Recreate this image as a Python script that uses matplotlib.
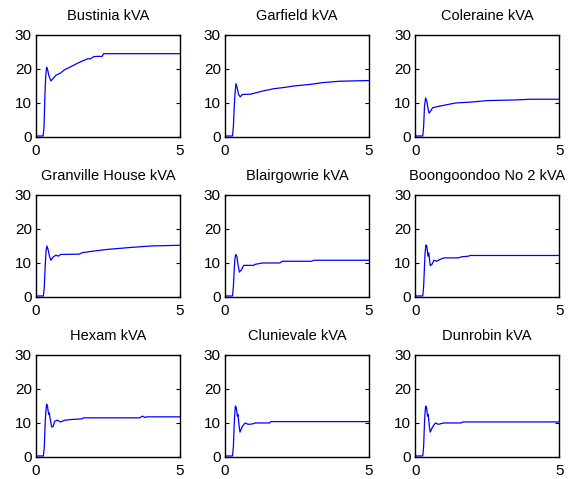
import matplotlib
matplotlib.use("Agg")
import matplotlib.pyplot as plt

plt.rcParams['font.family'] = ['Liberation Sans', 'DejaVu Sans']

titles = ["Bustinia kVA", "Garfield kVA", "Coleraine kVA",
          "Granville House kVA", "Blairgowrie kVA", "Boongoondoo No 2 kVA",
          "Hexam kVA", "Clunievale kVA", "Dunrobin kVA"]

bustinia_t = [0, 0.25, 0.28, 0.31, 0.34, 0.37, 0.40, 0.45, 0.52, 0.6, 0.7, 0.85, 1.0, 1.2, 1.4, 1.6, 1.8, 1.9, 2.0, 2.1, 2.3, 2.35, 5]
bustinia_y = [0.3, 0.3, 3, 12, 18, 20.5, 20, 18, 16.5, 17.2, 18.2, 18.8, 19.8, 20.6, 21.5, 22.3, 23, 23, 23.6, 23.7, 23.7, 24.5, 24.5]

garfield_t = [0, 0.26, 0.29, 0.32, 0.35, 0.38, 0.42, 0.47, 0.53, 0.6, 0.9, 1.3, 1.7, 2.0, 2.4, 3.0, 3.4, 4.0, 5]
garfield_y = [0.3, 0.3, 3, 9, 13, 15.7, 14.5, 12.5, 11.8, 12.5, 12.6, 13.5, 14.2, 14.5, 15.0, 15.5, 16.0, 16.4, 16.6]

coleraine_t = [0, 0.26, 0.29, 0.32, 0.36, 0.40, 0.44, 0.48, 0.55, 0.6, 0.8, 1.1, 1.4, 2.0, 2.5, 3.5, 4.0, 5]
coleraine_y = [0.3, 0.3, 3, 9, 11.5, 10.5, 8.5, 7.0, 7.8, 8.6, 9.0, 9.5, 10.0, 10.3, 10.7, 10.9, 11.1, 11.1]

granville_t = [0, 0.26, 0.29, 0.32, 0.35, 0.38, 0.42, 0.47, 0.52, 0.6, 0.7, 0.78, 0.85, 1.5, 1.6, 2.0, 2.5, 3.2, 4.0, 5]
granville_y = [0.3, 0.3, 3, 9, 13.5, 15.0, 14.0, 12.0, 10.8, 11.8, 12.3, 12.0, 12.5, 12.6, 13.0, 13.5, 14.0, 14.5, 15.0, 15.2]

blair_t = [0, 0.26, 0.29, 0.32, 0.34, 0.37, 0.41, 0.45, 0.50, 0.57, 0.65, 1.0, 1.05, 1.3, 1.9, 2.0, 3.0, 3.1, 5]
blair_y = [0.3, 0.3, 3, 8, 11, 12.5, 12.0, 9.5, 7.3, 8.0, 9.3, 9.3, 9.6, 10.0, 10.0, 10.5, 10.5, 10.8, 10.8]

boong_t = [0, 0.26, 0.29, 0.32, 0.34, 0.37, 0.40, 0.44, 0.47, 0.52, 0.58, 0.65, 0.75, 0.85, 1.0, 1.5, 1.6, 1.85, 1.9, 5]
boong_y = [0.3, 0.3, 3, 9, 13, 15.3, 15.0, 12.0, 13.0, 9.2, 9.6, 10.8, 10.5, 11.0, 11.5, 11.5, 11.8, 12.0, 12.2, 12.2]

hexam_t = [0, 0.26, 0.29, 0.32, 0.34, 0.37, 0.40, 0.44, 0.46, 0.52, 0.55, 0.6, 0.65, 0.75, 0.85, 1.0, 1.2, 1.6, 1.65, 3.6, 3.7, 3.8, 3.85, 5]
hexam_y = [0.3, 0.3, 3, 10, 13, 15.5, 15.0, 12.5, 13.0, 10.0, 8.8, 9.0, 10.5, 10.8, 10.3, 10.8, 11.0, 11.2, 11.5, 11.5, 12.0, 11.6, 11.8, 11.8]

cluni_t = [0, 0.26, 0.29, 0.32, 0.34, 0.36, 0.39, 0.43, 0.45, 0.49, 0.52, 0.6, 0.7, 0.8, 0.95, 1.05, 1.55, 1.6, 5]
cluni_y = [0.3, 0.3, 3, 10, 13, 15.0, 14.5, 12.0, 12.5, 9.0, 7.3, 9.0, 10.0, 9.6, 9.7, 10.0, 10.0, 10.4, 10.4]

dunrobin_t = [0, 0.26, 0.29, 0.32, 0.34, 0.36, 0.39, 0.43, 0.45, 0.49, 0.52, 0.6, 0.7, 0.8, 1.0, 1.6, 1.65, 5]
dunrobin_y = [0.3, 0.3, 3, 10, 13, 15.0, 14.5, 12.0, 12.5, 9.0, 7.3, 8.8, 10.0, 9.6, 10.0, 10.0, 10.3, 10.3]

series = [(bustinia_t, bustinia_y), (garfield_t, garfield_y), (coleraine_t, coleraine_y),
          (granville_t, granville_y), (blair_t, blair_y), (boong_t, boong_y),
          (hexam_t, hexam_y), (cluni_t, cluni_y), (dunrobin_t, dunrobin_y)]

fig = plt.figure(figsize=(5.8, 4.79), dpi=100)
lefts = [0.062, 0.388, 0.716]
bottoms = [0.714, 0.380, 0.046]
w, h = 0.248, 0.213

for i, (title, (t, y)) in enumerate(zip(titles, series)):
    r, c = divmod(i, 3)
    ax = fig.add_axes([lefts[c], bottoms[r], w, h])
    ax.plot(t, y, color='#0000ff', linewidth=0.9)
    ax.set_xlim(0, 5)
    ax.set_ylim(0, 30)
    ax.set_xticks([0, 5])
    ax.set_yticks([0, 10, 20, 30])
    ax.tick_params(direction='in', length=3, width=0.8, labelsize=11,
                   top=True, right=True, pad=3)
    ax.tick_params(axis='x', pad=5)
    for s in ax.spines.values():
        s.set_linewidth(1.0)
    ax.set_title(title, fontsize=10.5, pad=11)

fig.savefig("out.png", dpi=100)
